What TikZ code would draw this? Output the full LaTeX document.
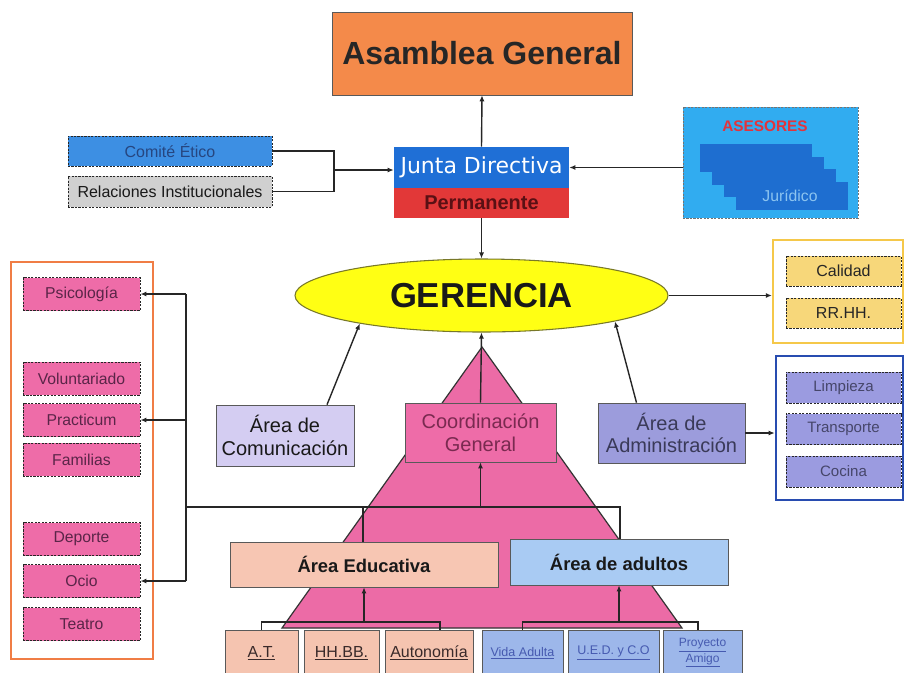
\documentclass[tikz,border=0pt]{standalone}
\usepackage{fontspec}
\setmainfont{Liberation Sans}
\newfontfamily\dvs{DejaVu Sans}
\usetikzlibrary{arrows.meta,shapes.geometric,calc}
\definecolor{asamC}{RGB}{244,138,74}
\definecolor{juntaC}{RGB}{31,111,214}
\definecolor{permC}{RGB}{226,56,56}
\definecolor{permT}{RGB}{90,16,20}
\definecolor{comiteC}{RGB}{61,143,227}
\definecolor{comiteT}{RGB}{38,70,128}
\definecolor{relC}{RGB}{208,208,208}
\definecolor{asesC}{RGB}{49,172,240}
\definecolor{stairC}{RGB}{30,110,208}
\definecolor{juriT}{RGB}{140,196,240}
\definecolor{asesT}{RGB}{226,52,60}
\definecolor{gerC}{RGB}{255,255,20}
\definecolor{gerB}{RGB}{120,120,40}
\definecolor{yelB}{RGB}{245,200,74}
\definecolor{calC}{RGB}{247,215,122}
\definecolor{bluB}{RGB}{40,76,176}
\definecolor{limpC}{RGB}{155,155,224}
\definecolor{limpT}{RGB}{70,70,106}
\definecolor{orgB}{RGB}{240,125,69}
\definecolor{pinkC}{RGB}{238,108,168}
\definecolor{pinkT}{RGB}{90,37,72}
\definecolor{comC}{RGB}{212,205,242}
\definecolor{coordT}{RGB}{122,42,80}
\definecolor{admC}{RGB}{156,156,220}
\definecolor{admT}{RGB}{58,58,88}
\definecolor{pyrC}{RGB}{236,107,166}
\definecolor{eduC}{RGB}{247,198,179}
\definecolor{adulC}{RGB}{169,203,243}
\definecolor{botP}{RGB}{245,196,176}
\definecolor{botB}{RGB}{157,183,234}
\definecolor{botPT}{RGB}{58,42,42}
\definecolor{botBT}{RGB}{70,90,176}
\begin{document}
\begin{tikzpicture}[x=0.75pt,y=-0.75pt,
  box/.style={rectangle,draw=black!65,line width=0.5pt,inner sep=0pt,align=center},
  dbox/.style={box,draw=black!85,line width=0.7pt,dash pattern=on 1.6pt off 1pt},
  pinkbox/.style={dbox,fill=pinkC,text=pinkT,minimum width=87.75pt,minimum height=24.75pt,font=\fontsize{11.8}{13}\selectfont},
  calbox/.style={dbox,fill=calC,text=black!85,minimum width=86.25pt,minimum height=22.5pt,font=\fontsize{12}{14}\selectfont},
  limpbox/.style={dbox,fill=limpC,text=limpT,minimum width=86.25pt,minimum height=23.25pt,font=\fontsize{11.3}{13}\selectfont},
  botbox/.style={box,minimum height=34.5pt,line width=0.6pt},
  ln/.style={line width=1.05pt,draw=black!85},
  arr/.style={ln,-{Latex[length=4.5pt,width=3.8pt]}}]
\useasboundingbox (0,0) rectangle (905,672);
\clip (0,0) rectangle (905,672);
\fill[white] (0,0) rectangle (905,672);

% pyramid
\filldraw[fill=pyrC,draw=black!80,line width=0.9pt] (482,347) -- (282,628) -- (682,628) -- cycle;

% top
\node[box,fill=asamC,minimum width=225pt,minimum height=62.25pt,font=\fontsize{24}{28}\selectfont\bfseries,text=black!85] (asam) at (482,53.5) {Asamblea General};
\node[box,draw=none,fill=juntaC,minimum width=131.25pt,minimum height=30.75pt,text=white,font=\dvs\fontsize{16.5}{19}\selectfont] (junta) at (481.5,167.5) {Junta Directiva};
\node[box,draw=none,fill=permC,minimum width=131.25pt,minimum height=22.5pt,text=permT,font=\fontsize{15}{18}\selectfont\bfseries] (perm) at (481.5,203) {Permanente};
\node[dbox,fill=comiteC,text=comiteT,minimum width=153pt,minimum height=22.5pt,font=\fontsize{12}{14}\selectfont] (comite) at (170,151) {Comité Ético};
\node[dbox,fill=relC,text=black!90,minimum width=153pt,minimum height=23.25pt,font=\fontsize{12}{14}\selectfont] (rel) at (170,191.5) {Relaciones Institucionales};

% asesores
\node[dbox,fill=asesC,draw=black!55,minimum width=131.25pt,minimum height=83.25pt] (ases) at (770.5,162.5) {};
\node[text=asesT,font=\fontsize{11.5}{13}\selectfont\bfseries] (asesl) at (765,126) {ASESORES};
\foreach \i in {0,1,2,3}{
  \fill[stairC] ($(700,144)+(12*\i,12.5*\i)$) rectangle ($(812,172)+(12*\i,12.5*\i)$);
}
\node[text=juriT,font=\fontsize{11.8}{13}\selectfont] (juri) at (790,196) {Jurídico};

% gerencia
\node[ellipse,fill=gerC,draw=gerB,line width=0.8pt,minimum width=279.75pt,minimum height=54.75pt,inner sep=0pt,font=\fontsize{26}{30}\selectfont\bfseries,text=black!90] (ger) at (481.5,295.5) {GERENCIA};

% right groups
\node[box,draw=yelB,line width=1.8pt,fill=white,minimum width=97.5pt,minimum height=77.25pt] (yel) at (838,291.5) {};
\node[calbox] (cal) at (843.5,271) {Calidad};
\node[calbox] (rrhh) at (843.5,313) {RR.HH.};
\node[box,draw=bluB,line width=2pt,fill=white,minimum width=95.25pt,minimum height=108pt] (blu) at (839.5,428) {};
\node[limpbox] (limp) at (843.5,387.5) {Limpieza};
\node[limpbox] (transp) at (843.5,429) {Transporte};
\node[limpbox] (cocina) at (843.5,471.5) {Cocina};

% left group
\node[box,draw=orgB,line width=1.7pt,fill=white,minimum width=106.5pt,minimum height=297.75pt] (lgrp) at (82,460.5) {};
\node[pinkbox] (psico) at (81.5,294) {Psicología};
\node[pinkbox] (volun) at (81.5,378.5) {Voluntariado};
\node[pinkbox] (pract) at (81.5,420) {Practicum};
\node[pinkbox] (famil) at (81.5,459.5) {Familias};
\node[pinkbox] (depor) at (81.5,539) {Deporte};
\node[pinkbox] (ocio) at (81.5,581) {Ocio};
\node[pinkbox] (teatro) at (81.5,624) {Teatro};

% middle
\node[box,fill=comC,minimum width=103.5pt,minimum height=45.75pt,font=\fontsize{15}{17}\selectfont,text=black!90] (com) at (285,435.5) {Área de\\Comunicación};
\node[box,fill=pinkC,minimum width=113.25pt,minimum height=44.25pt,font=\fontsize{15}{17}\selectfont,text=coordT] (coord) at (480.5,432.5) {Coordinación\\General};
\node[box,fill=admC,minimum width=110.25pt,minimum height=45pt,font=\fontsize{15}{17}\selectfont,text=admT] (adm) at (671.5,433) {Área de\\Administración};
\node[box,fill=eduC,minimum width=201pt,minimum height=33.75pt,font=\fontsize{13.8}{16}\selectfont\bfseries,text=black!90] (educ) at (364,564.5) {Área Educativa};
\node[box,fill=adulC,minimum width=163.5pt,minimum height=34.5pt,font=\fontsize{13.8}{16}\selectfont\bfseries,text=black!90] (adul) at (619,562) {Área de adultos};

% bottom row
\node[botbox,fill=botP,text=botPT,minimum width=54.75pt,font=\fontsize{12}{14}\selectfont] (at) at (261.5,653) {\underline{A.T.}};
\node[botbox,fill=botP,text=botPT,minimum width=56.25pt,font=\fontsize{12}{14}\selectfont] (hh) at (341.5,653) {\underline{HH.BB.}};
\node[botbox,fill=botP,text=botPT,minimum width=66pt,font=\fontsize{12}{14}\selectfont] (auto) at (429,653) {\underline{Autonomía}};
\node[botbox,fill=botB,text=botBT,minimum width=60.75pt,font=\fontsize{9.4}{10}\selectfont] (vida) at (522.5,653) {\underline{Vida Adulta}};
\node[botbox,fill=botB,text=botBT,minimum width=68.25pt,font=\fontsize{9.4}{10}\selectfont] (ued) at (613.5,653) {\underline{U.E.D. y C.O}};
\node[botbox,fill=botB,text=botBT,minimum width=59.25pt,font=\fontsize{9}{10}\selectfont] (amigo) at (702.5,653) {\underline{Proyecto}\\\underline{Amigo}};

% connectors top
\draw[arr] (junta.north) -- (asam.south);
\draw[arr] (perm.south) -- (ger.north);
\coordinate (jx) at (334,170);
\draw[ln] (comite.east) -| (jx);
\draw[ln] (rel.east) -| (jx);
\draw[arr] (jx) -- (jx -| junta.west);
\draw[arr] (junta.east -| ases.west) -- (junta.east);
\draw[arr] (ger.east) -- (ger.east -| yel.west);
\draw[arr] (adm.east) -- (adm.east -| blu.west);
\draw[arr] ($(com.north)+(42,0)$) -- (ger.193);
\draw[arr] ($(adm.north)+(-35,0)$) -- (ger.349);
\draw[arr] (coord.north) -- (ger.south);

% left connectors
\coordinate (hL) at (186,507);
\coordinate (hR) at (620,507);
\coordinate (hE) at (363,507);
\draw[ln] (psico.east -| hL) -- (ocio.east -| hL);
\draw[arr] (psico.east -| hL) -- (psico.east);
\draw[arr] (pract.east -| hL) -- (pract.east);
\draw[arr] (ocio.east -| hL) -- (ocio.east);
\draw[ln] (hL) -- (hR) -- (hR |- adul.north);
\draw[ln] (hE) -- (hE |- educ.north);
\draw[arr] (hL -| coord.south) -- (coord.south);

% bottom connectors
\coordinate (bl) at (440,622);
\coordinate (br) at (698,622);
\draw[ln] (at.north) |- (bl) -- (bl |- auto.north);
\draw[arr] (educ.south |- bl) -- (educ.south);
\draw[ln] (vida.north) |- (br) -- (br |- amigo.north);
\draw[arr] (adul.south |- br) -- (adul.south);
\end{tikzpicture}
\end{document}
